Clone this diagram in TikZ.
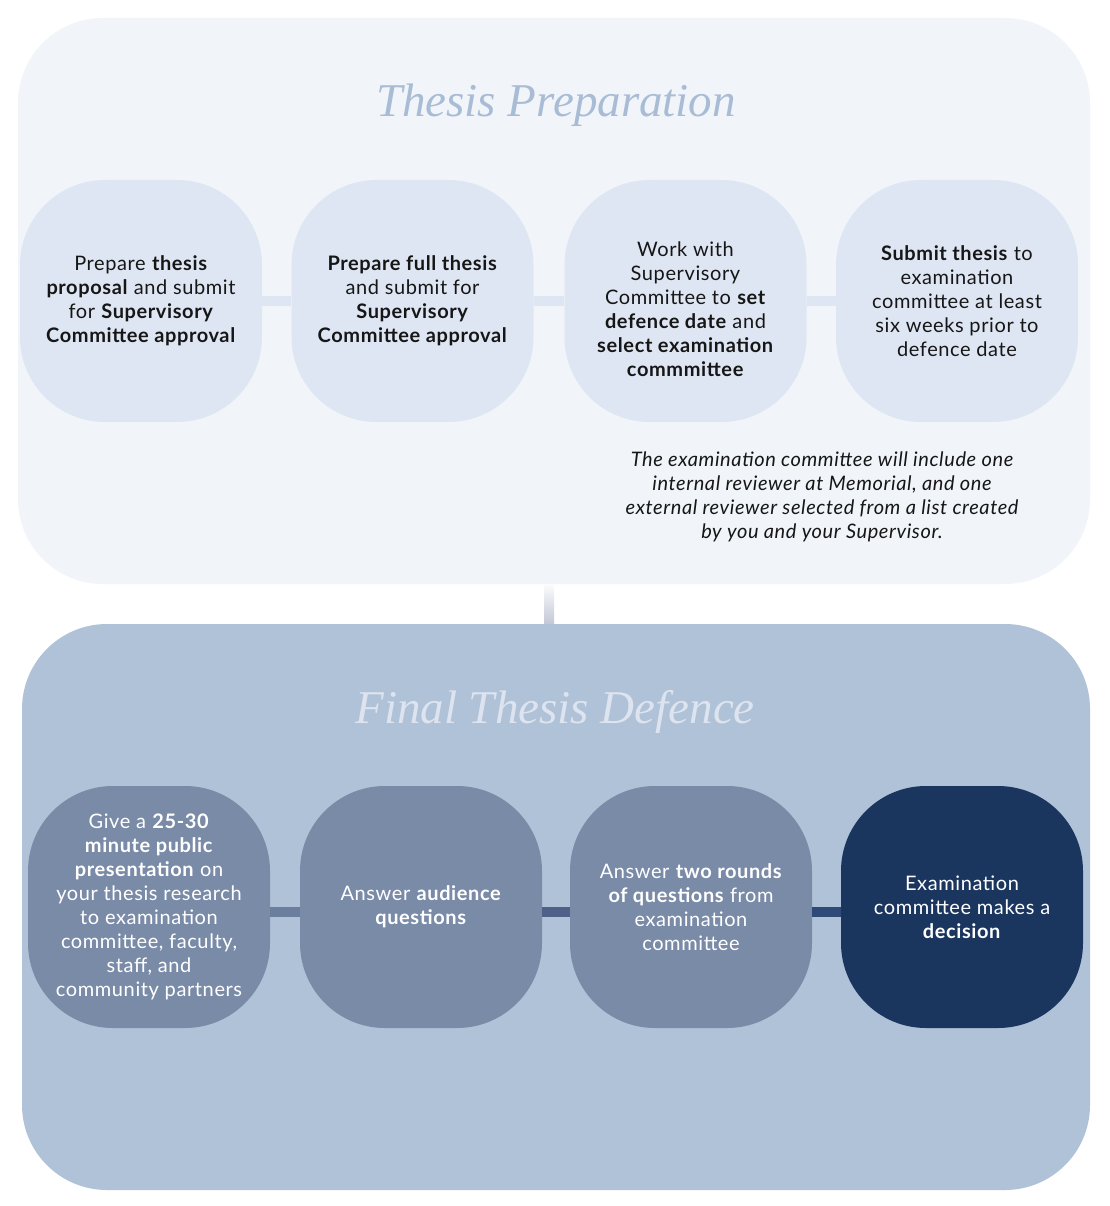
\documentclass[tikz,border=0pt]{standalone}
\usepackage{fontspec}
\newfontfamily\bodyfont{Lato}[LetterSpace=3]
\newfontfamily\titlefont{Liberation Serif}
\definecolor{toppanel}{HTML}{F1F5F9}
\definecolor{topnode}{HTML}{DFE6F3}
\definecolor{toptitle}{HTML}{A9BCD6}
\definecolor{botpanel}{HTML}{B0C2D8}
\definecolor{bottitle}{HTML}{DDE4EF}
\definecolor{botnode}{HTML}{7A8BA8}
\definecolor{darknode}{HTML}{1A365F}
\definecolor{bartwo}{HTML}{6C7E9E}
\definecolor{barthree}{HTML}{4F6189}
\definecolor{barfour}{HTML}{2F4A78}
\definecolor{inktext}{HTML}{161616}
\tikzset{
  panel/.style={draw=none, rounded corners=85pt, inner sep=0pt},
  bodytext/.style={align=center, font={\bodyfont\fontsize{20}{24}\selectfont}},
  stepbox/.style={draw=none, rounded corners=85pt, minimum width=242pt, minimum height=242pt,
    inner sep=0pt, bodytext},
  topbox/.style={stepbox, fill=topnode, text=inktext},
  botbox/.style={stepbox, fill=botnode, text=white},
  bar/.style={line width=10pt},
  paneltitle/.style={anchor=base, font={\titlefont\fontsize{47}{52}\selectfont\itshape}},
}
\begin{document}
\begin{tikzpicture}[x=1pt,y=-1pt]
\useasboundingbox (0,0) rectangle (1109,1206);
\fill[white] (0,0) rectangle (1109,1206);

% panels
\node[panel, fill=toppanel, minimum width=1072pt, minimum height=566pt] (prep) at (554,301) {};
\node[panel, fill=botpanel, minimum width=1068pt, minimum height=566pt] (def) at (556,907) {};
\shade[top color=white!70!toppanel, bottom color={rgb,255:red,195;green,199;blue,214}]
  ([xshift=-10pt]prep.south) rectangle ([xshift=-2pt]def.north);

% titles
\node[paneltitle, text=toptitle] (t1) at (556,117) {Thesis Preparation};
\node[paneltitle, text=bottitle] (t2) at (555,723) {Final Thesis Defence};

% top steps
\node[topbox] (n1) at (141,301) {Prepare \textbf{thesis}\\ \textbf{proposal} and submit\\ for \textbf{Supervisory}\\ \textbf{Committee approval}};
\node[topbox] (n2) at (412.5,301) {\textbf{Prepare full thesis}\\ and submit for\\ \textbf{Supervisory}\\ \textbf{Committee approval}};
\node[topbox] (n3) at (685.5,301) {};
\node[bodytext, text=inktext, inner sep=0pt] (n3t) at ([yshift=-8pt]n3.center) {Work with\\ Supervisory\\ Committee to \textbf{set}\\ \textbf{defence date} and\\ \textbf{select examination}\\ \textbf{commmittee}};
\node[topbox] (n4) at (957,301) {\textbf{Submit thesis} to\\ examination\\ committee at least\\ six weeks prior to\\ defence date};
\draw[bar, topnode] (n1.east) -- (n2.west);
\draw[bar, topnode] (n2.east) -- (n3.west);
\draw[bar, topnode] (n3.east) -- (n4.west);

\node[align=center, text=inktext, font={\bodyfont\fontsize{20}{24}\selectfont\itshape}] (note) at (822,497)
  {The examination committee will include one\\ internal reviewer at Memorial, and one\\ external reviewer selected from a list created\\ by you and your Supervisor.};

% bottom steps
\node[botbox] (b1) at (149,907) {Give a \textbf{25-30}\\ \textbf{minute public}\\ \textbf{presentation} on\\ your thesis research\\ to examination\\ committee, faculty,\\ staff, and\\ community partners};
\node[botbox] (b2) at (421,907) {Answer \textbf{audience}\\ \textbf{questions}};
\node[botbox] (b3) at (691,907) {Answer \textbf{two rounds}\\ \textbf{of questions} from\\ examination\\ committee};
\node[botbox, fill=darknode] (b4) at (962,907) {Examination\\ committee makes a\\ \textbf{decision}};
\draw[bar, bartwo] ([yshift=-5pt]b1.east) -- ([yshift=-5pt]b2.west);
\draw[bar, barthree] ([yshift=-5pt]b2.east) -- ([yshift=-5pt]b3.west);
\draw[bar, barfour] ([yshift=-5pt]b3.east) -- ([yshift=-5pt]b4.west);
\end{tikzpicture}
\end{document}
